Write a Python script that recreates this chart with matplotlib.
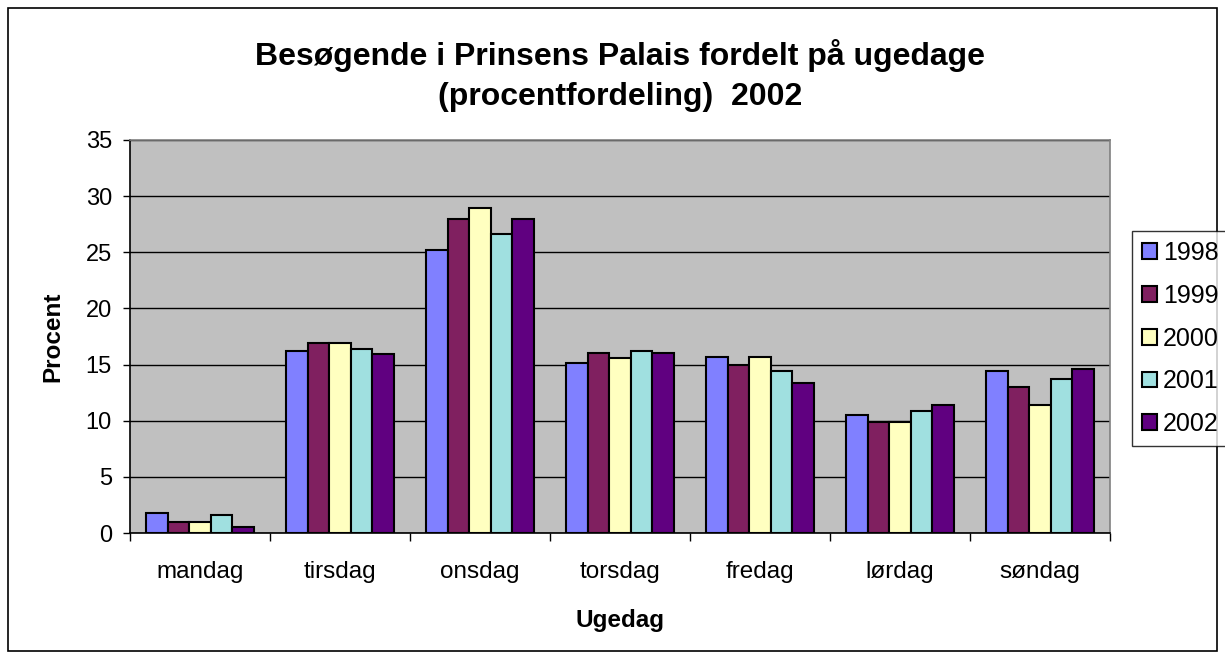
import matplotlib
matplotlib.use("Agg")
import matplotlib.pyplot as plt
import numpy as np
from matplotlib.patches import Rectangle

plt.rcParams['font.family'] = ['Liberation Sans', 'DejaVu Sans']

categories = ["mandag", "tirsdag", "onsdag", "torsdag", "fredag", "lørdag", "søndag"]
series_names = ["1998", "1999", "2000", "2001", "2002"]
v1998 = [1.8, 16.2, 25.2, 15.1, 15.7, 10.5, 14.4]
v1999 = [1.0, 16.9, 28.0, 16.0, 15.0, 9.9, 13.0]
v2000 = [1.0, 16.9, 28.9, 15.6, 15.7, 9.9, 11.4]
v2001 = [1.6, 16.4, 26.6, 16.2, 14.4, 10.9, 13.7]
v2002 = [0.5, 15.9, 28.0, 16.0, 13.4, 11.4, 14.6]
series = [v1998, v1999, v2000, v2001, v2002]
colors = ["#8080FF", "#802060", "#FFFFC0", "#A0E0E0", "#600080"]
yticks = [0, 5, 10, 15, 20, 25, 30, 35]

W, H = 1225, 659
fig = plt.figure(figsize=(W/100, H/100), dpi=100)
fig.patches.append(Rectangle((8/W, 8/H), 1 - 16/W, 1 - 16/H, transform=fig.transFigure,
                             fill=False, edgecolor='black', linewidth=1.2, zorder=0))

ax = fig.add_axes([130/W, 1 - 533/H, 980/W, 393/H])
ax.set_facecolor("#C0C0C0")

n = len(series)
bw = 0.154
x = np.arange(len(categories))
for i, (vals, c, name) in enumerate(zip(series, colors, series_names)):
    offs = (i - (n - 1) / 2) * bw
    ax.bar(x + offs, vals, width=bw, color=c, edgecolor='black', linewidth=1.5,
           label=name, zorder=3)

ax.set_xlim(-0.5, len(categories) - 0.5)
ax.set_ylim(0, 35)
ax.set_yticks(yticks)
ax.set_yticklabels([str(t) for t in yticks], fontsize=17)
ax.yaxis.grid(True, color='black', linewidth=1.0, zorder=1)
ax.set_axisbelow(True)

ax.set_xticks(x)
ax.set_xticklabels(categories, fontsize=17.5)
ax.tick_params(axis='x', which='major', length=0, pad=20)
ax.set_xticks(np.arange(-0.5, len(categories)), minor=True)
ax.tick_params(axis='x', which='minor', length=6, width=1, color='black')
ax.tick_params(axis='y', length=5, width=1, color='black', pad=8)

for s in ['left', 'bottom']:
    ax.spines[s].set_color('black')
    ax.spines[s].set_linewidth(1.2)
for s in ['top', 'right']:
    ax.spines[s].set_color('#808080')
    ax.spines[s].set_linewidth(1.2)

fig.text(53/W, 1 - 337/H, "Procent", rotation=90, ha='center', va='center',
         fontsize=17.5, fontweight='bold')
fig.text(620/W, 1 - 621/H, "Ugedag", ha='center', va='center',
         fontsize=17.5, fontweight='bold')

fig.text(0.5 * (130 + 1110) / W, 1 - 55/H, "Besøgende i Prinsens Palais fordelt på ugedage",
         ha='center', va='center', fontsize=23, fontweight='bold')
fig.text(0.5 * (130 + 1110) / W, 1 - 97/H, "(procentfordeling)  2002",
         ha='center', va='center', fontsize=23, fontweight='bold')

leg = fig.legend(loc='upper left', bbox_to_anchor=(1132/W, 1 - 231/H), fontsize=18,
                 frameon=True, fancybox=False, edgecolor='black', handlelength=0.6,
                 handleheight=0.6, handletextpad=0.25, labelspacing=0.75, borderpad=0.4,
                 borderaxespad=0)
leg.get_frame().set_linewidth(1.0)

fig.savefig("out.png", dpi=100)
